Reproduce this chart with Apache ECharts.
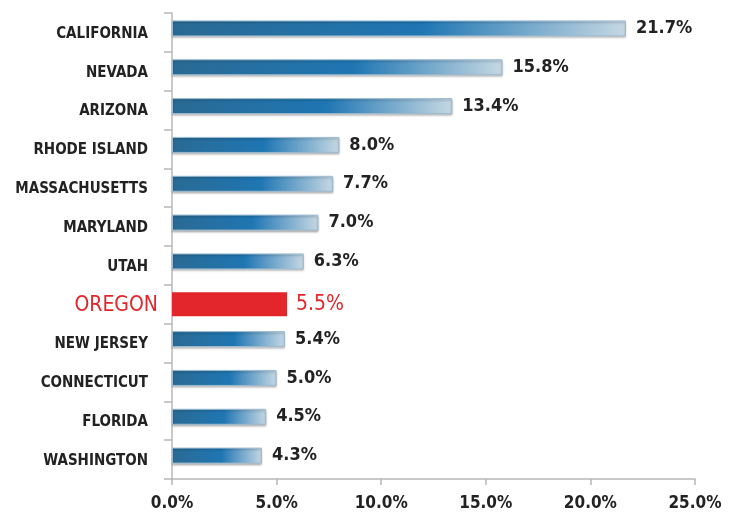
<!DOCTYPE html>
<html>
<head>
<meta charset="utf-8">
<script src="https://cdn.jsdelivr.net/npm/echarts@6/dist/echarts.min.js"></script>
<style>
html,body{margin:0;padding:0;background:#fff;}
#c{width:731px;height:513px;}
</style>
</head>
<body>
<div id="c"></div>
<script>
const categories = ['CALIFORNIA','NEVADA','ARIZONA','RHODE ISLAND','MASSACHUSETTS','MARYLAND','UTAH','OREGON','NEW JERSEY','CONNECTICUT','FLORIDA','WASHINGTON'];
const values = [21.7, 15.8, 13.4, 8.0, 7.7, 7.0, 6.3, 5.5, 5.4, 5.0, 4.5, 4.3];
const highlight = 'OREGON';
const xTicks = [0, 5, 10, 15, 20, 25];

const FONT = '"DejaVu Sans Condensed","Liberation Sans Narrow",sans-serif';
const RED = '#e3262b';

const chart = echarts.init(document.getElementById('c'), null, {renderer:'canvas'});

const grad = new echarts.graphic.LinearGradient(0,0,1,0,[
  {offset:0, color:'#2a6a94'},
  {offset:0.55, color:'#1f76b3'},
  {offset:1, color:'#c6d8e3'}
]);

const normalData = categories.map((c,i)=> c===highlight ? null : values[i]);
const hlData = categories.map((c,i)=> c===highlight ? values[i] : null);

chart.setOption({
  animation:false,
  grid:{left:172, right:36, top:13, bottom:34, containLabel:false},
  xAxis:{
    type:'value', min:xTicks[0], max:xTicks[xTicks.length-1], interval:5,
    axisLine:{show:true, lineStyle:{color:'#b8b8b8', width:1.5}},
    axisTick:{show:true, length:6, lineStyle:{color:'#b8b8b8', width:1.5}},
    splitLine:{show:false},
    axisLabel:{margin:16, color:'#222', fontFamily:FONT, fontWeight:'bold', fontSize:17,
      formatter:v=>v.toFixed(1)+'%'}
  },
  yAxis:{
    type:'category', data:categories, inverse:true,
    axisLine:{show:true, lineStyle:{color:'#b8b8b8', width:1.5}},
    axisTick:{show:true, length:8, inside:false, lineStyle:{color:'#b8b8b8', width:1.5}},
    axisLabel:{margin:14, fontFamily:FONT,
      formatter:v=> v===highlight ? '{hl|'+v+'}' : '{n|'+v+'}',
      rich:{
        n:{color:'#222', fontFamily:FONT, fontWeight:'bold', fontSize:15, padding:[3,10,0,0]},
        hl:{color:RED, fontFamily:FONT, fontWeight:'normal', fontSize:21, padding:[2,0,0,0]}
      }
    }
  },
  series:[
    {
      type:'bar', data:normalData, barWidth:16, barGap:'-100%',
      itemStyle:{color:grad, borderColor:'#9dbbd0', borderWidth:1,
        shadowColor:'rgba(0,0,0,0.25)', shadowBlur:2, shadowOffsetY:1.5},
      label:{show:true, position:'right', distance:10, color:'#222', fontFamily:FONT,
        fontWeight:'bold', fontSize:18, padding:[3,0,0,0], formatter:p=>p.value.toFixed(1)+'%'}
    },
    {
      type:'bar', data:hlData, barWidth:24, barGap:'-100%',
      itemStyle:{color:RED},
      label:{show:true, position:'right', distance:9, color:RED, fontFamily:FONT,
        fontWeight:'normal', fontSize:21, padding:[2,0,0,0], formatter:p=>p.value.toFixed(1)+'%'}
    }
  ]
});
</script>
</body>
</html>
